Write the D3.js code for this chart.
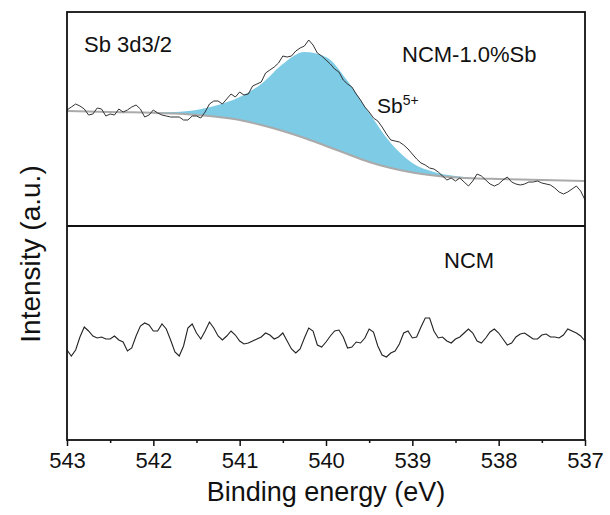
<!DOCTYPE html>
<html>
<head>
<meta charset="utf-8">
<script src="https://cdn.jsdelivr.net/npm/d3@7"></script>
<style>
  body { margin: 0; background: #fff; }
  text { font-family: "Liberation Sans", Arial, sans-serif; fill: #111; }
</style>
</head>
<body>
<div id="chart"></div>
<script>
// binding energy grid, 0.05 eV step from 543 down to 537
var energy = d3.range(121).map(function(i) { return +(543 - i * 0.05).toFixed(2); });
// coarse grid for the fitted curves (0.25 eV)
var fitEnergy = d3.range(25).map(function(i) { return 543 - i * 0.25; });

// NCM-1.0%Sb raw spectrum (a.u.)
var sbRaw = [116, 119, 122, 120, 117, 111, 112, 118, 117, 110,
  112, 111, 117, 114, 116, 119, 121, 117, 109, 111,
  116, 113, 111, 110, 109, 109, 109, 106, 106, 110,
  110, 108, 114, 122, 125, 125, 122, 127, 132, 129,
  134, 131, 132, 140, 142, 144, 153, 156, 159, 163,
  170, 169, 170, 175, 178, 180, 186, 181, 173, 170,
  166, 162, 157, 154, 146, 142, 139, 132, 126, 119,
  114, 108, 105, 99, 92, 86, 85, 84, 81, 77,
  72, 67, 63, 61, 58, 57, 54, 50, 46, 48,
  45, 48, 44, 40, 45, 52, 50, 46, 42, 40,
  42, 46, 49, 44, 42, 41, 42, 44, 44, 45,
  43, 42, 41, 38, 34, 32, 34, 37, 40, 35,
  26];

// Sb5+ fitted envelope and Shirley background
var sbFit = [115, 114.5, 114, 114, 113.5, 114, 116, 121, 129, 142, 162, 174, 169,
  145, 113, 83, 63, 54, 50, 48, 47, 46.5, 46, 45.5, 45];
var sbBg = [115, 114.5, 114, 113.7, 113.2, 112.5, 111, 109, 106, 101, 95, 88, 80,
  72, 64, 58, 53.5, 50.5, 48.5, 47.5, 47, 46.5, 46, 45.5, 45];

// pristine NCM spectrum (a.u.)
var ncmRaw = [90, 84, 90, 103, 113, 109, 104, 102, 103, 101,
  101, 104, 100, 98, 89, 92, 104, 114, 117, 115,
  109, 109, 116, 111, 100, 88, 84, 94, 112, 116,
  107, 101, 109, 118, 112, 104, 100, 104, 109, 105,
  99, 96, 97, 99, 101, 103, 107, 105, 101, 103,
  107, 99, 91, 87, 91, 102, 112, 109, 95, 93,
  98, 104, 109, 110, 103, 92, 93, 98, 97, 102,
  111, 108, 94, 85, 83, 87, 89, 96, 107, 109,
  102, 103, 113, 122, 122, 109, 102, 103, 99, 97,
  101, 103, 107, 111, 107, 99, 97, 102, 108, 111,
  107, 101, 95, 97, 103, 106, 107, 104, 101, 101,
  105, 106, 103, 103, 102, 105, 111, 109, 107, 104,
  99];

var xTicks = [543, 542, 541, 540, 539, 538, 537];

var width = 610, height = 515;
var pLeft = 67, pRight = 585, pTop = 12, pMid = 226, pBottom = 440;

var svg = d3.select('#chart').append('svg')
  .attr('width', width).attr('height', height);

var x = d3.scaleLinear().domain([543, 537]).range([pLeft, pRight]);
var yTop = d3.scaleLinear().domain([0, pMid - pTop]).range([pMid, pTop]);
var yBot = d3.scaleLinear().domain([0, pBottom - pMid]).range([pBottom, pMid]);

// fitted peak area between background and envelope
var fitData = fitEnergy.map(function(e, i) { return { e: e, hi: sbFit[i], lo: sbBg[i] }; });

svg.append('path')
  .datum(fitData)
  .attr('fill', '#7ecbe6')
  .attr('d', d3.area()
    .curve(d3.curveMonotoneX)
    .x(function(d) { return x(d.e); })
    .y0(function(d) { return yTop(d.lo); })
    .y1(function(d) { return yTop(d.hi); }));

svg.append('path')
  .datum(fitData)
  .attr('fill', 'none')
  .attr('stroke', '#aaaaaa')
  .attr('stroke-width', 2)
  .attr('d', d3.line()
    .curve(d3.curveMonotoneX)
    .x(function(d) { return x(d.e); })
    .y(function(d) { return yTop(d.lo); }));

var rawLine = function(ys) {
  return d3.line()
    .x(function(d, i) { return x(energy[i]); })
    .y(function(d) { return ys(d); });
};

svg.append('path')
  .datum(sbRaw)
  .attr('fill', 'none')
  .attr('stroke', '#333')
  .attr('stroke-width', 1)
  .attr('d', rawLine(yTop));

svg.append('path')
  .datum(ncmRaw)
  .attr('fill', 'none')
  .attr('stroke', '#222')
  .attr('stroke-width', 1.1)
  .attr('d', rawLine(yBot));

// frame and panel divider
svg.append('rect')
  .attr('x', pLeft).attr('y', pTop)
  .attr('width', pRight - pLeft).attr('height', pBottom - pTop)
  .attr('fill', 'none').attr('stroke', '#111').attr('stroke-width', 1.8);

svg.append('line')
  .attr('x1', pLeft).attr('x2', pRight)
  .attr('y1', pMid).attr('y2', pMid)
  .attr('stroke', '#111').attr('stroke-width', 1.8);

// x axis
var xAxis = svg.append('g')
  .attr('transform', 'translate(0,' + pBottom + ')')
  .call(d3.axisBottom(x).tickValues(xTicks).tickSize(6).tickPadding(6)
    .tickFormat(d3.format('d')));
xAxis.select('.domain').remove();
xAxis.selectAll('line').attr('stroke', '#111').attr('stroke-width', 1.5);
xAxis.selectAll('text')
  .style('font-size', '22px')
  .style('font-family', '"Liberation Sans", Arial, sans-serif')
  .attr('fill', '#111');

var minor = svg.append('g')
  .attr('transform', 'translate(0,' + pBottom + ')')
  .call(d3.axisBottom(x).tickValues(d3.range(542.5, 537, -1)).tickSize(3).tickFormat(''));
minor.select('.domain').remove();
minor.selectAll('line').attr('stroke', '#111').attr('stroke-width', 1.5);

// labels
svg.append('text')
  .attr('x', 326).attr('y', 501)
  .attr('text-anchor', 'middle')
  .style('font-size', '27px')
  .text('Binding energy (eV)');

svg.append('text')
  .attr('transform', 'translate(40,254) rotate(-90)')
  .attr('text-anchor', 'middle')
  .style('font-size', '28px')
  .text('Intensity (a.u.)');

svg.append('text')
  .attr('x', 84).attr('y', 52)
  .style('font-size', '22px')
  .text('Sb 3d3/2');

svg.append('text')
  .attr('x', 402).attr('y', 62)
  .style('font-size', '22px')
  .text('NCM-1.0%Sb');

var sb5 = svg.append('text')
  .attr('x', 377).attr('y', 113)
  .style('font-size', '21px');
sb5.append('tspan').text('Sb');
sb5.append('tspan').attr('dy', -8).style('font-size', '14px').text('5+');

svg.append('text')
  .attr('x', 444).attr('y', 268)
  .style('font-size', '22px')
  .text('NCM');
</script>
</body>
</html>
